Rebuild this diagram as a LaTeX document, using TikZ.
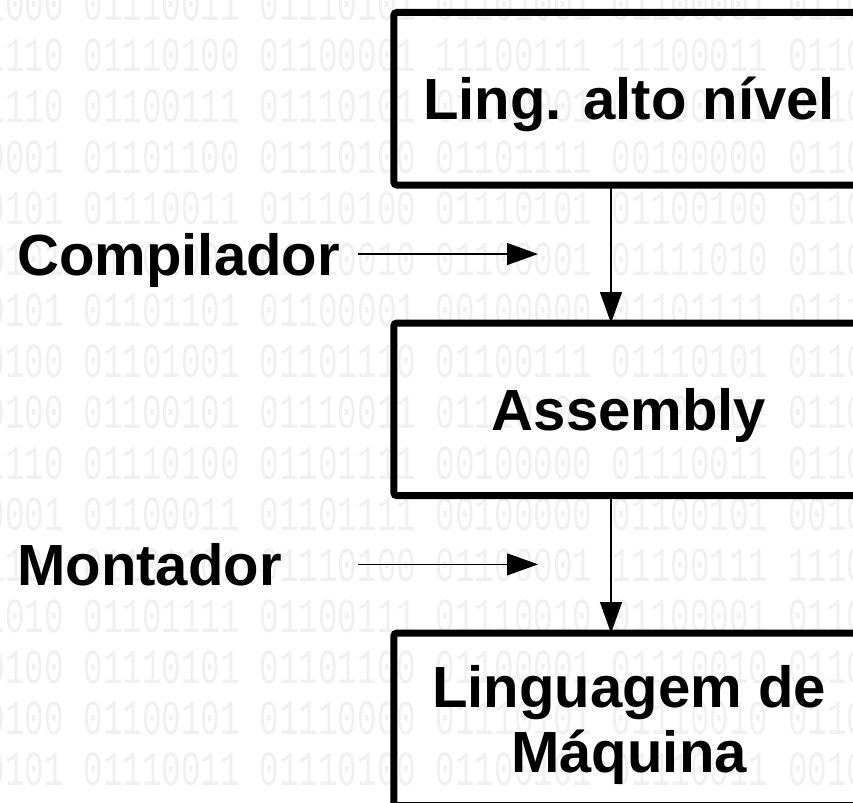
\documentclass[tikz,border=0pt]{standalone}
\usepackage{fontspec}
\setmainfont{Liberation Sans}
\newfontfamily\bitsfont{Liberation Mono}
\usepackage{graphicx}
\usetikzlibrary{calc}
\usetikzlibrary{arrows.meta,positioning}

\begin{document}
\begin{tikzpicture}[x=0.025cm,y=-0.025cm,>={Triangle[length=22pt,width=15.6pt]}]
        \tikzset{block/.style= {draw, line width=5pt, rounded corners=2pt, outer sep=0pt, align=center,
                minimum width=11.75cm, minimum height=4.3125cm,
                font=\fontsize{41.3}{46.2}\selectfont\bfseries, text height=29.6pt, text depth=0pt},
        lbl/.style={font=\fontsize{41.3}{46.2}\selectfont\bfseries, inner sep=0pt},
        bitrow/.style={font=\fontsize{23.2}{24}\selectfont\bitsfont, text=black!6, inner sep=0pt, anchor=west},
        }
        \clip (0,0) rectangle (853,802);
        % binary background
        \foreach \k/\word in {0/{01101000 01110011 01110101 01101001 01100001 01100011},
                1/{01101110 01110100 01100001 11100111 11100011 01101111},
                2/{01101110 01100111 01110101 01100001 01100111 01100101},
                3/{01100001 01101100 01110100 01101111 00100000 01101101},
                4/{01100101 01110011 01110100 01110101 01100100 01101111},
                5/{01100101 01101001 01110010 01100001 01111010 01100001},
                6/{01100101 01101101 01100001 00100000 01101111 01110010},
                7/{01110100 01101001 01101110 01100111 01110101 01100001},
                8/{01110100 01100101 01110011 01110100 01100001 01100100},
                9/{01101110 01110100 01101111 00100000 01110011 01100101},
                10/{01100001 01100011 01101111 00100000 01100101 00100000},
                11/{01101101 01101101 01110100 01100001 11100111 11100011},
                12/{01101010 01101111 01100111 01110010 01100001 01101101},
                13/{01110100 01110101 01101100 01100001 01110010 01100101},
                14/{01110100 01100101 01110000 01110101 01110010 01100001},
                15/{01100101 01110011 01110100 01100101 01110011 00100000}}
            \node [bitrow] (row\k) at (-93,{4+51*\k}) {\scalebox{1}[1.5]{\word}};

        \node [block] (hll) at (629,98.75) {Ling. alto nível};
        \node [block, below=3.45cm of hll] (asm) {Assembly};
        \node [block, below=3.4375cm of asm, text height=75.8pt] (mach) {Linguagem de\\Máquina};

        \coordinate (comp_in) at ($(hll.south)!.5!(asm.north)+(-271,0)$);
        \coordinate (comp_out) at ($(hll.south)!.5!(asm.north)+(-91,0)$);
        \coordinate (mont_in) at ($(asm.south)!.5!(mach.north)+(-271,0)$);
        \coordinate (mont_out) at ($(asm.south)!.5!(mach.north)+(-91,0)$);
        \node [lbl, anchor=base west] (comp) at ($(comp_in)+(-341,21)$) {Compilador};
        \node [lbl, anchor=base west] (mont) at ($(mont_in)+(-341,21)$) {Montador};

%% paths
        \path[line width=0.8pt, every edge/.append style={->}]
                    ([xshift=-0.45cm]hll.south) edge ([xshift=-0.45cm]asm.north)
                    ([xshift=-0.45cm]asm.south) edge ([xshift=-0.45cm]mach.north)
                    (comp_in) edge (comp_out)
                    (mont_in) edge (mont_out)
                    ;
\end{tikzpicture}
\end{document}
